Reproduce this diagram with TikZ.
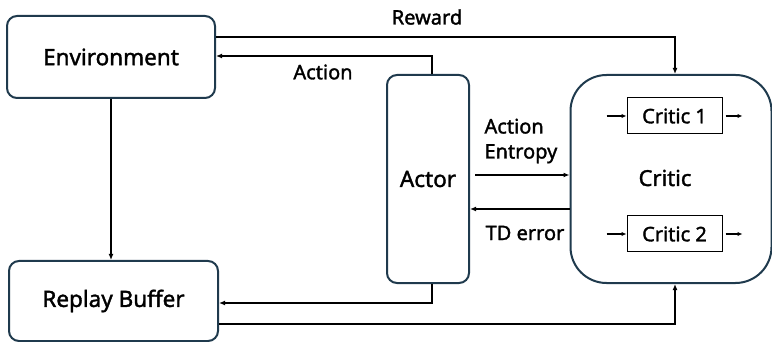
\documentclass[tikz,border=0pt]{standalone}
\usepackage{fontspec}
\setmainfont{Noto Sans}[BoldFont={Noto Sans}, BoldFeatures={FakeBold=1.6}]
\usetikzlibrary{arrows.meta, positioning, calc}
\definecolor{BoxLine}{HTML}{1F3A4D}
\tikzset{
  bigbox/.style={draw=BoxLine, line width=2pt, rounded corners=10pt, fill=white, align=center, inner sep=0pt, font=\fontsize{22.5}{26}\selectfont\bfseries},
  criticbox/.style={draw=black, line width=1pt, fill=white, inner sep=0pt, minimum width=95pt, minimum height=36pt, font=\fontsize{20}{24}\selectfont\bfseries},
  lbl/.style={font=\fontsize{20}{25}\selectfont\bfseries, align=left},
  arrow/.style={-{Latex[length=6pt, width=5pt]}, line width=1.4pt, draw=black},
  smallarrow/.style={-{Latex[length=5pt, width=4.5pt]}, line width=1.4pt, draw=black}
}
\begin{document}
\begin{tikzpicture}[x=1pt,y=-1pt]
\useasboundingbox (0,0) rectangle (772,342);
% main blocks
\node[bigbox, minimum width=208pt, minimum height=82pt] (env) at (111,57) {Environment};
\node[bigbox, minimum width=209pt, minimum height=80pt] (replay) at (113.5,301) {Replay Buffer};
\node[bigbox, minimum width=82pt, minimum height=208pt] (actor) at (428,179) {Actor};
\node[bigbox, rounded corners=36pt, minimum width=201pt, minimum height=208pt] (critic) at (671,179) {};
\node[font=\fontsize{22}{26}\selectfont\bfseries] (criticlbl) at (665,178) {Critic};
\node[criticbox] (c1) at (674.5,116) {Critic 1};
\node[criticbox] (c2) at (674.5,234) {Critic 2};
\foreach \c in {c1,c2}{
  \draw[smallarrow] ([xshift=-20pt]\c.west) -- (\c.west);
  \draw[smallarrow] ([xshift=3pt]\c.east) -- ([xshift=20pt]\c.east);
}

% connectors
\draw[arrow] ([yshift=20pt]env.east) -| ([xshift=4pt]critic.north);
\node[lbl] (reward) at (427,17) {Reward};
\draw[arrow] ([xshift=4pt]actor.north) |- ([yshift=1pt]env.east);
\node[lbl] (action) at (323,72) {Action};
\draw[arrow] (env.south) -- (env.south |- replay.north);
\draw[arrow] ([xshift=5pt,yshift=4pt]actor.east) -- ([yshift=4pt]critic.west);
\node[lbl, anchor=west] (entropy) at (481,141) {Action\\Entropy};
\draw[arrow] ([yshift=-30pt]critic.west) -- ([yshift=-30pt]actor.east);
\node[lbl] (tderr) at (525,233) {TD error};
\draw[arrow] ([xshift=4pt]actor.south) |- ([yshift=-2pt]replay.east);
\draw[arrow] ([yshift=-23pt]replay.east) -| ([xshift=4pt]critic.south);
\end{tikzpicture}
\end{document}
